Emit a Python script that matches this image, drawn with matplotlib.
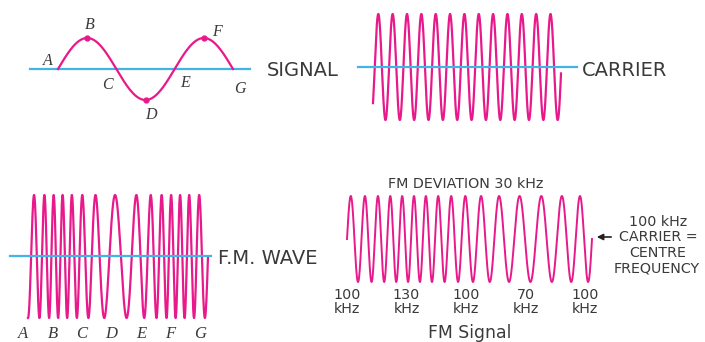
import numpy as np
import matplotlib.pyplot as plt

# values
signal_labels = ["A", "B", "C", "D", "E", "F", "G"]
signal_cycles = 1.5
carrier_cycles = 13.1
fm_wave_cycles = 15.25
fm_wave_depth = 0.45          # relative frequency swing of the F.M. wave
fm_centre_khz = 100
fm_deviation_khz = 30
fm_signal_cycles = 16
fm_tick_khz = [100, 130, 100, 70, 100]

PINK = "#e8198b"
BLUE = "#41b6e6"
TEXT = "#3a3a3a"
SANS = "DejaVu Sans"
SERIF = "Liberation Serif"
BIG = 14
SMALL = 10.3


def norm_phase(u, freq):
    # integrate the instantaneous frequency along u, scaled to 0..1
    ph = np.concatenate([[0], np.cumsum((freq[1:] + freq[:-1]) / 2 * np.diff(u))])
    return ph / ph[-1]


fig = plt.figure(figsize=(7.05, 3.42), dpi=100)
ax = fig.add_axes([0, 0, 1, 1])
ax.set_xlim(0, 705)
ax.set_ylim(342, 0)
ax.axis("off")

u = np.linspace(0, 1, 3000)

# --- modulating signal (top left)
x0, x1, yc, amp = 58, 233, 69, 31
ax.plot([30, 250], [yc, yc], color=BLUE, lw=1.6)
xs = x0 + (x1 - x0) * u
ax.plot(xs, yc - amp * np.sin(2 * np.pi * signal_cycles * u), color=PINK, lw=1.6)
for k in (1, 3, 5):
    uk = k / 6
    ax.plot(x0 + (x1 - x0) * uk, yc - amp * np.sin(2 * np.pi * signal_cycles * uk),
            "o", color=PINK, ms=3.5)
offsets = [(-10, -8), (3, -44), (-9, 16), (5, 46), (10, 14), (13, -37), (7, 20)]
for i, lab in enumerate(signal_labels):
    xl = x0 + (x1 - x0) * i / 6
    ax.text(xl + offsets[i][0], yc + offsets[i][1], lab, family=SERIF, style="italic",
            fontsize=11.5, color=TEXT, ha="center", va="center")
ax.text(267, 71, "SIGNAL", family=SANS, fontsize=BIG, color=TEXT, va="center")

# --- carrier (top right)
x0, x1, yc, amp = 373, 561, 67, 53
ax.plot([358, 577], [yc, yc], color=BLUE, lw=1.6, zorder=3)
ax.plot(x0 + (x1 - x0) * u, yc - amp * np.sin(2 * np.pi * carrier_cycles * u - 0.75),
        color=PINK, lw=1.6)
ax.text(582, 71, "CARRIER", family=SANS, fontsize=BIG, color=TEXT, va="center")

# --- F.M. wave (bottom left)
x0, x1, yc, amp = 28, 208, 256.5, 61.5
freq = 1 + fm_wave_depth * np.sin(2 * np.pi * signal_cycles * u)
p = norm_phase(u, freq)
ax.plot([10, 211], [256, 256], color=BLUE, lw=1.6, zorder=3)
ax.plot(x0 + (x1 - x0) * u,
        yc - amp * np.sin(2 * np.pi * fm_wave_cycles * p - np.pi / 2), color=PINK, lw=1.6)
for i, lab in enumerate(signal_labels):
    ax.text(23 + 177 * i / 6, 334, lab, family=SERIF, style="italic", fontsize=12,
            color=TEXT, ha="center", va="center")
ax.text(218, 259, "F.M. WAVE", family=SANS, fontsize=BIG, color=TEXT, va="center")

# --- FM signal with frequency marks (bottom right)
x0, x1, yc, amp = 347, 592, 239, 43
freq = fm_centre_khz + fm_deviation_khz * np.sin(2 * np.pi * u)
p = norm_phase(u, freq)
ax.plot(x0 + (x1 - x0) * u, yc - amp * np.sin(2 * np.pi * fm_signal_cycles * p),
        color=PINK, lw=1.4)
for i, f in enumerate(fm_tick_khz):
    ax.text(347 + 238 * i / 4, 302, f"{f}\nkHz", family=SANS, fontsize=SMALL, color=TEXT,
            ha="center", va="center", linespacing=1.0)
ax.text(466, 184, f"FM DEVIATION {fm_deviation_khz} kHz", family=SANS, fontsize=SMALL,
        color=TEXT, ha="center", va="center")
ax.text(470, 333, "FM Signal", family=SANS, fontsize=12.4, color=TEXT,
        ha="center", va="center")
ax.annotate("", xy=(594, 237), xytext=(614, 237),
            arrowprops=dict(arrowstyle="-|>", color="#222222", lw=1.2, mutation_scale=9))
ax.text(658, 222, f"{fm_centre_khz} kHz", family=SANS, fontsize=SMALL, color=TEXT,
        ha="center", va="center")
ax.text(658, 237, "CARRIER =", family=SANS, fontsize=SMALL, color=TEXT,
        ha="center", va="center")
ax.text(658, 253, "CENTRE", family=SANS, fontsize=SMALL, color=TEXT,
        ha="center", va="center")
ax.text(657, 268, "FREQUENCY", family=SANS, fontsize=SMALL, color=TEXT,
        ha="center", va="center")

fig.savefig("out.png", dpi=100)
